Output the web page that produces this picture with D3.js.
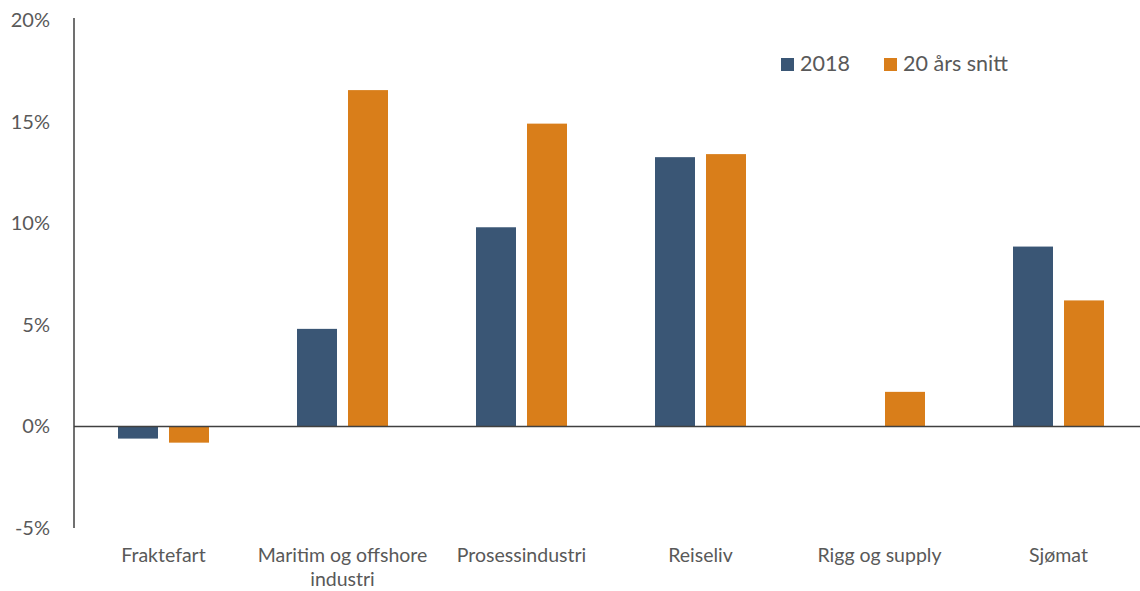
<!DOCTYPE html>
<html><head><meta charset="utf-8">
<script src="https://cdn.jsdelivr.net/npm/d3@7"></script>
<style>body{margin:0;background:#fff;} svg{display:block;font-family:Lato,"Open Sans",sans-serif;}</style>
</head><body>
<svg id="c" width="1140" height="591"></svg>
<script>
const categories = ["Fraktefart", "Maritim og offshore industri", "Prosessindustri", "Reiseliv", "Rigg og supply", "Sjømat"];
const categoryLines = [["Fraktefart"], ["Maritim og offshore", "industri"], ["Prosessindustri"], ["Reiseliv"], ["Rigg og supply"], ["Sjømat"]];
const seriesNames = ["2018", "20 års snitt"];
const values2018 = [-0.6, 4.8, 9.8, 13.25, 0, 8.85];
const valuesAvg = [-0.8, 16.55, 14.9, 13.4, 1.7, 6.2];
const yTicks = [-5, 0, 5, 10, 15, 20];
const colors = ["#3A5675", "#D97E1A"];

const svg = d3.select("#c");
const x = d3.scaleBand().domain(categories).range([74, 1148]);
const y = d3.scaleLinear().domain([-5, 20]).range([528, 20]);
const sub = d3.scaleBand().domain(seriesNames).range([0, 91]).paddingInner(0.216);
const off = (x.bandwidth() - 91) / 2;

const series = [values2018, valuesAvg];
series.forEach((vals, si) => {
  svg.append("g").selectAll("rect").data(vals).join("rect")
    .attr("x", (d, i) => x(categories[i]) + off + sub(seriesNames[si]))
    .attr("width", sub.bandwidth())
    .attr("y", d => y(Math.max(0, d)))
    .attr("height", d => Math.abs(y(d) - y(0)))
    .attr("fill", colors[si]);
});

// y axis labels
const yAxis = d3.axisLeft(y).tickValues(yTicks).tickSize(0).tickPadding(24).tickFormat(d => d + "%");
const ga = svg.append("g").attr("transform", "translate(74,0)").call(yAxis);
ga.select(".domain").remove();
ga.selectAll("text").attr("fill", "#595959").style("font-size", "20px").style("font-family", "Lato, 'Open Sans', sans-serif");
svg.append("line").attr("x1", 74).attr("x2", 74).attr("y1", y(20) - 2).attr("y2", y(-5)).attr("stroke", "#404040").attr("stroke-width", 1.5);
svg.append("line").attr("x1", 74).attr("x2", 1140).attr("y1", y(0)).attr("y2", y(0)).attr("stroke", "#404040").attr("stroke-width", 1.5);

// x labels
const gx = svg.append("g");
categories.forEach((c, i) => {
  const t = gx.append("text").attr("x", x(c) + x.bandwidth() / 2).attr("y", 562)
    .attr("text-anchor", "middle").attr("fill", "#595959").style("font-size", "19.5px");
  categoryLines[i].forEach((ln, j) => t.append("tspan").attr("x", x(c) + x.bandwidth() / 2).attr("dy", j ? 24 : 0).text(ln));
});

// legend
const legX = [781, 884];
seriesNames.forEach((n, i) => {
  svg.append("rect").attr("x", legX[i]).attr("y", 58).attr("width", 13).attr("height", 13).attr("fill", colors[i]);
  svg.append("text").attr("x", legX[i] + 19).attr("y", 71).attr("fill", "#595959").style("font-size", "21.5px").text(n);
});
</script>
</body></html>
